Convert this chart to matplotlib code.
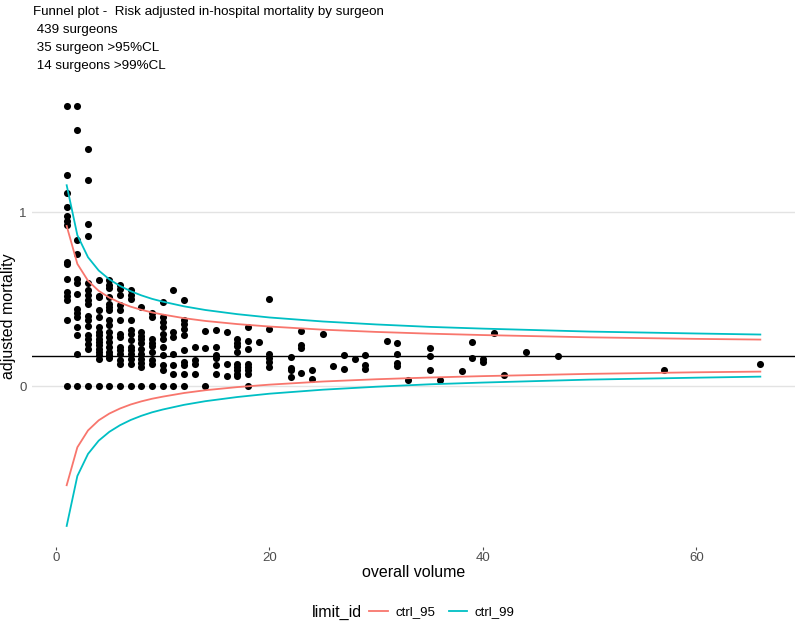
import matplotlib
matplotlib.use("Agg")
import matplotlib.pyplot as plt
from matplotlib.lines import Line2D

# ---------------- data ----------------
title_lines = ["Funnel plot -  Risk adjusted in-hospital mortality by surgeon",
               " 439 surgeons",
               " 35 surgeon >95%CL",
               " 14 surgeons >99%CL"]

volume = (
    [1] * 15 + [2] * 14 + [3] * 17 + [4] * 16 + [5] * 17 + [6] * 14 + [7] * 13 +
    [8] * 11 + [9] * 9 + [10] * 11 + [11] * 7 + [12] * 10 + [13] * 4 + [14] * 3 +
    [15] * 6 + [16] * 3 + [17] * 9 + [18] * 8 + [19] + [20] * 6 + [22] * 4 +
    [23] * 4 + [24] * 2 + [25] + [26] + [27] * 2 + [28] + [29] * 3 + [31] +
    [32] * 4 + [33] + [35] * 3 + [36] + [38] + [39] * 2 + [40] * 2 + [41] +
    [42] + [44] + [47] + [57] + [66]
)

adj_mortality = (
    # 1
    [1.61, 1.215, 1.11, 1.03, 0.98, 0.947, 0.924, 0.713, 0.70, 0.617, 0.54, 0.52, 0.493, 0.378, 0.0]
    # 2
    + [1.61, 1.47, 0.837, 0.76, 0.613, 0.59, 0.53, 0.445, 0.42, 0.397, 0.339, 0.291, 0.186, 0.0]
    # 3
    + [1.364, 1.184, 0.933, 0.86, 0.59, 0.55, 0.525, 0.497, 0.474, 0.40, 0.378, 0.343, 0.295,
       0.268, 0.24, 0.211, 0.0]
    # 4
    + [0.611, 0.52, 0.51, 0.435, 0.397, 0.339, 0.31, 0.291, 0.272, 0.253, 0.234, 0.215, 0.195,
       0.176, 0.157, 0.0]
    # 5
    + [0.607, 0.58, 0.563, 0.512, 0.474, 0.454, 0.435, 0.378, 0.349, 0.31, 0.282, 0.253, 0.224,
       0.195, 0.176, 0.16, 0.0]
    # 6
    + [0.58, 0.56, 0.521, 0.464, 0.435, 0.378, 0.30, 0.282, 0.224, 0.205, 0.186, 0.148, 0.129, 0.0]
    # 7
    + [0.55, 0.521, 0.502, 0.378, 0.32, 0.30, 0.263, 0.224, 0.205, 0.186, 0.157, 0.129, 0.0]
    # 8
    + [0.454, 0.31, 0.29, 0.27, 0.25, 0.215, 0.186, 0.157, 0.13, 0.109, 0.0]
    # 9
    + [0.42, 0.397, 0.272, 0.25, 0.23, 0.195, 0.148, 0.125, 0.0]
    # 10
    + [0.483, 0.397, 0.37, 0.34, 0.30, 0.272, 0.224, 0.176, 0.119, 0.09, 0.0]
    # 11
    + [0.55, 0.31, 0.28, 0.186, 0.119, 0.07, 0.0]
    # 12
    + [0.495, 0.378, 0.359, 0.33, 0.296, 0.205, 0.138, 0.119, 0.071, 0.0]
    # 13
    + [0.224, 0.148, 0.129, 0.071]
    # 14
    + [0.316, 0.22, 0.0]
    # 15
    + [0.324, 0.224, 0.176, 0.16, 0.119, 0.071]
    # 16
    + [0.31, 0.129, 0.056]
    # 17
    + [0.272, 0.25, 0.23, 0.195, 0.129, 0.11, 0.09, 0.07, 0.056]
    # 18
    + [0.339, 0.257, 0.215, 0.125, 0.11, 0.09, 0.07, 0.0]
    # 19
    + [0.253]
    # 20
    + [0.502, 0.33, 0.186, 0.16, 0.14, 0.109]
    # 22
    + [0.167, 0.106, 0.09, 0.052]
    # 23
    + [0.316, 0.234, 0.22, 0.077]
    # 24
    + [0.09, 0.042]
    # 25, 26
    + [0.301] + [0.117]
    # 27
    + [0.176, 0.098]
    # 28
    + [0.155]
    # 29
    + [0.176, 0.12, 0.1]
    # 31
    + [0.258]
    # 32
    + [0.245, 0.186, 0.13, 0.115]
    # 33
    + [0.037]
    # 35
    + [0.217, 0.172, 0.092]
    # 36, 38
    + [0.033] + [0.088]
    # 39
    + [0.251, 0.163]
    # 40
    + [0.155, 0.138]
    # 41, 42, 44, 47, 57, 66
    + [0.307] + [0.066] + [0.195] + [0.175] + [0.094] + [0.129]
)

target_rate = 0.175

limit_volume = [1, 2, 3, 4, 5, 6, 7, 8, 9, 10, 12, 14, 17, 20, 25, 30, 35, 40, 50, 60, 66]
ctrl95_upper = [0.920, 0.702, 0.605, 0.547, 0.508, 0.479, 0.456, 0.438, 0.423, 0.411, 0.390,
                0.374, 0.356, 0.342, 0.324, 0.311, 0.301, 0.293, 0.280, 0.271, 0.267]
ctrl95_lower = [-0.570, -0.352, -0.255, -0.197, -0.158, -0.129, -0.106, -0.088, -0.073, -0.061,
                -0.040, -0.024, -0.006, 0.008, 0.026, 0.039, 0.049, 0.057, 0.070, 0.079, 0.083]
ctrl99_upper = [1.154, 0.867, 0.740, 0.664, 0.613, 0.575, 0.545, 0.521, 0.501, 0.485, 0.458,
                0.437, 0.413, 0.394, 0.371, 0.354, 0.340, 0.330, 0.313, 0.302, 0.296]
ctrl99_lower = [-0.804, -0.517, -0.390, -0.314, -0.263, -0.225, -0.195, -0.171, -0.151, -0.135,
                -0.108, -0.087, -0.063, -0.044, -0.021, -0.004, 0.010, 0.020, 0.037, 0.048, 0.054]

limit_labels = ["ctrl_95", "ctrl_99"]
limit_colors = ["#F8766D", "#00BFC4"]

x_ticks = [0, 20, 40, 60]
y_ticks = [0, 1]

# ---------------- figure ----------------
plt.rcParams['font.family'] = ['Liberation Sans', 'DejaVu Sans']

W, H = 796, 623
fig = plt.figure(figsize=(W / 100, H / 100), dpi=100)
left_px, right_px, top_px, bottom_px = 32, 795, 85, 547
ax = fig.add_axes([left_px / W, 1 - bottom_px / H,
                   (right_px - left_px) / W, (bottom_px - top_px) / H])

for s in ax.spines.values():
    s.set_visible(False)

ax.set_xlim(-2.25, 69.25)
ax.set_ylim(-0.925, 1.73)

for yv in y_ticks:
    ax.axhline(yv, color="#E3E3E3", lw=1.0, zorder=0)

ax.scatter(volume, adj_mortality, s=26, color="black", zorder=3, linewidths=0)

ax.plot(limit_volume, ctrl95_upper, color=limit_colors[0], lw=1.3, zorder=4)
ax.plot(limit_volume, ctrl95_lower, color=limit_colors[0], lw=1.3, zorder=4)
ax.plot(limit_volume, ctrl99_upper, color=limit_colors[1], lw=1.3, zorder=4)
ax.plot(limit_volume, ctrl99_lower, color=limit_colors[1], lw=1.3, zorder=4)

ax.axhline(target_rate, color="black", lw=1.0, zorder=2)

ax.set_xticks(x_ticks)
ax.set_yticks(y_ticks)
ax.set_xticklabels([str(v) for v in x_ticks])
ax.set_yticklabels([str(v) for v in y_ticks])
ax.tick_params(axis="x", length=2.5, width=0.8, color="#4D4D4D", pad=1,
               labelsize=9.5, labelcolor="#4D4D4D")
ax.tick_params(axis="y", length=0, pad=4, labelsize=9.5, labelcolor="#4D4D4D")

ax.set_xlabel("overall volume", fontsize=11.5, labelpad=1, color="black")
fig.text(9 / W, 1 - 316 / H, "adjusted mortality", rotation=90, ha="center", va="center",
         fontsize=11.5, color="black")

fig.text(33 / W, 1 - 6 / H, "\n".join(title_lines), ha="left", va="top",
         fontsize=9.6, linespacing=1.65)

# legend
fig.text(337 / W, 1 - 612 / H, "limit_id", ha="center", va="center", fontsize=11.5)
handles = [Line2D([0], [0], color=c, lw=1.3) for c in limit_colors]
fig.legend(handles, limit_labels, loc="center", bbox_to_anchor=(442 / W, 1 - 612 / H),
           ncol=2, frameon=False, fontsize=9.5, handlelength=1.4, handletextpad=0.6,
           columnspacing=1.0)

fig.savefig("out.png", dpi=100)
